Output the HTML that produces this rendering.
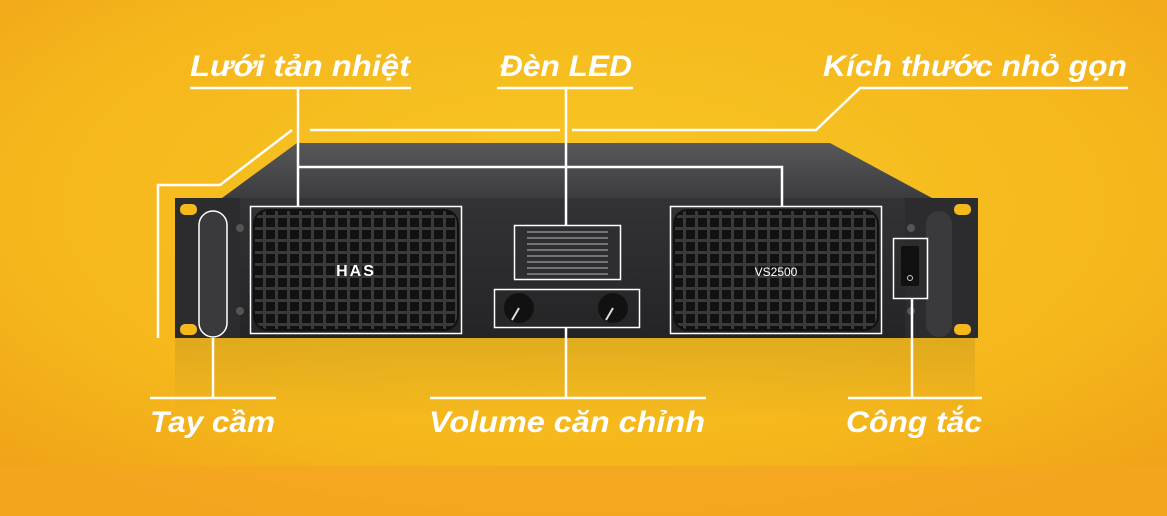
<!DOCTYPE html>
<html><head><meta charset="utf-8"><style>
html,body{margin:0;padding:0;width:1167px;height:516px;overflow:hidden;background:#f5b81c}
svg{display:block}
text{font-family:"Liberation Sans","DejaVu Sans",sans-serif;font-weight:bold;font-style:italic;fill:#fff}
</style></head><body>
<svg width="1167" height="516" viewBox="0 0 1167 516" xmlns="http://www.w3.org/2000/svg">
<defs>
<radialGradient id="bg" cx="0.5" cy="0.4" r="0.7">
<stop offset="0" stop-color="#f8c824"/><stop offset="0.7" stop-color="#f5b61c"/><stop offset="1" stop-color="#f0a418"/>
</radialGradient>
<linearGradient id="top" x1="0" y1="0" x2="0" y2="1">
<stop offset="0" stop-color="#58585a"/><stop offset="1" stop-color="#3c3c3e"/>
</linearGradient>
<linearGradient id="front" x1="0" y1="0" x2="0" y2="1">
<stop offset="0" stop-color="#333335"/><stop offset="1" stop-color="#242426"/>
</linearGradient>
<linearGradient id="refl" x1="0" y1="0" x2="0" y2="1">
<stop offset="0" stop-color="#c99a1e" stop-opacity="0.5"/><stop offset="1" stop-color="#c99a1e" stop-opacity="0"/>
</linearGradient>
<pattern id="grid" width="12" height="12" patternUnits="userSpaceOnUse">
<rect width="12" height="12" fill="#3a3a3c"/><rect x="2" y="2" width="9" height="9" fill="#111"/>
</pattern>
</defs>
<rect width="1167" height="516" fill="url(#bg)"/>
<rect y="466" width="1167" height="50" fill="#f4a520" opacity="0.8"/>
<rect x="175" y="338" width="800" height="80" fill="url(#refl)"/>
<polygon points="297,143 830,143 932,198 222,198" fill="url(#top)"/>
<rect x="175" y="198" width="803" height="140" fill="url(#front)"/>
<rect x="175" y="198" width="65" height="140" fill="#2c2c2e"/>
<rect x="905" y="198" width="73" height="140" fill="#2c2c2e"/>
<rect x="180" y="204" width="17" height="11" rx="5" fill="#f5b81c"/>
<rect x="180" y="324" width="17" height="11" rx="5" fill="#f5b81c"/>
<rect x="954" y="204" width="17" height="11" rx="5" fill="#f5b81c"/>
<rect x="954" y="324" width="17" height="11" rx="5" fill="#f5b81c"/>
<rect x="199" y="211" width="28" height="126" rx="14" fill="#3a3a3c" stroke="#fff" stroke-width="1.5"/>
<rect x="926" y="211" width="26" height="126" rx="13" fill="#3a3a3c"/>
<circle cx="240" cy="228" r="4" fill="#555"/><circle cx="240" cy="311" r="4" fill="#555"/>
<circle cx="911" cy="228" r="4" fill="#555"/><circle cx="911" cy="311" r="4" fill="#555"/>
<rect x="254" y="210" width="204" height="120" rx="14" fill="url(#grid)" stroke="#111" stroke-width="2"/>
<rect x="674" y="210" width="204" height="120" rx="14" fill="url(#grid)" stroke="#111" stroke-width="2"/>
<rect x="250.5" y="206.5" width="211" height="127" fill="none" stroke="#fff" stroke-width="1.5"/>
<rect x="670.5" y="206.5" width="211" height="127" fill="none" stroke="#fff" stroke-width="1.5"/>
<text x="356" y="276" font-size="16" text-anchor="middle" style="font-style:normal;letter-spacing:2px">HAS</text>
<text x="776" y="276" font-size="12" text-anchor="middle" style="font-style:normal;font-weight:normal">VS2500</text>
<rect x="514.5" y="225.5" width="106" height="54" fill="#2e2e30" stroke="#fff" stroke-width="1.5"/>
<g stroke="#bbb" stroke-width="1">
<line x1="527" y1="232" x2="608" y2="232"/><line x1="527" y1="238" x2="608" y2="238"/><line x1="527" y1="244" x2="608" y2="244"/><line x1="527" y1="250" x2="608" y2="250"/><line x1="527" y1="256" x2="608" y2="256"/><line x1="527" y1="262" x2="608" y2="262"/><line x1="527" y1="268" x2="608" y2="268"/><line x1="527" y1="274" x2="608" y2="274"/>
</g>
<rect x="494.5" y="289.5" width="145" height="38" fill="none" stroke="#fff" stroke-width="1.5"/>
<circle cx="519" cy="308" r="15" fill="#111"/><line x1="519" y1="308" x2="512" y2="320" stroke="#ddd" stroke-width="2"/>
<circle cx="613" cy="308" r="15" fill="#111"/><line x1="613" y1="308" x2="606" y2="320" stroke="#ddd" stroke-width="2"/>
<rect x="893.5" y="238.5" width="34" height="60" fill="none" stroke="#fff" stroke-width="1.5"/>
<rect x="901" y="246" width="18" height="40" rx="2" fill="#111"/>
<circle cx="910" cy="278" r="2.5" fill="none" stroke="#ccc"/>
<g stroke="#fff" stroke-width="2.5" fill="none">
<line x1="190" y1="88" x2="411" y2="88"/>
<polyline points="298,88 298,206"/>
<polyline points="298,167 782,167 782,206"/>
<line x1="497" y1="88" x2="633" y2="88"/>
<line x1="566" y1="88" x2="566" y2="225"/>
<polyline points="1128,88 860,88 816,130 572,130"/>
<polyline points="560,130 310,130"/>
<polyline points="292,130 220,185 158,185 158,338"/>
<line x1="213" y1="338" x2="213" y2="398"/>
<line x1="150" y1="398" x2="276" y2="398"/>
<line x1="566" y1="328" x2="566" y2="398"/>
<line x1="430" y1="398" x2="706" y2="398"/>
<line x1="912" y1="299" x2="912" y2="398"/>
<line x1="848" y1="398" x2="982" y2="398"/>
</g>
<text x="190" y="76" font-size="30" textLength="220" lengthAdjust="spacingAndGlyphs">Lưới tản nhiệt</text>
<text x="500" y="76" font-size="30" textLength="132" lengthAdjust="spacingAndGlyphs">Đèn LED</text>
<text x="823" y="76" font-size="30" textLength="304" lengthAdjust="spacingAndGlyphs">Kích thước nhỏ gọn</text>
<text x="150" y="432" font-size="30" textLength="125" lengthAdjust="spacingAndGlyphs">Tay cầm</text>
<text x="429" y="432" font-size="30" textLength="276" lengthAdjust="spacingAndGlyphs">Volume căn chỉnh</text>
<text x="846" y="432" font-size="30" textLength="136" lengthAdjust="spacingAndGlyphs">Công tắc</text>
</svg>
</body></html>
